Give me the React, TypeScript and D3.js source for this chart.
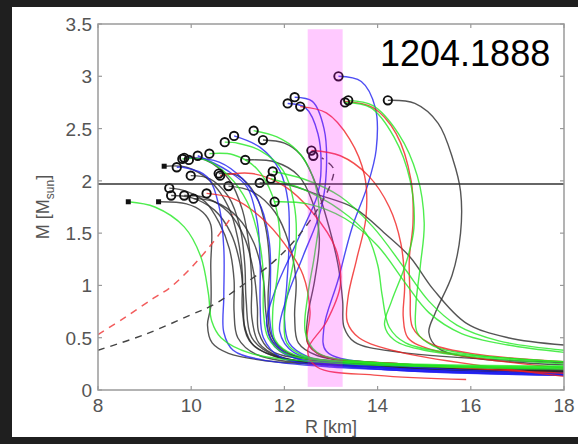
import React from "react";
import * as d3 from "d3";

// mass-radius curves, [R km, M Msun], from max-mass point down to the low-mass tail
const blackCurves = [
  [[14.22,2.77],[14.8,2.74],[15.3,2.55],[15.62,2.2],[15.78,1.9],[15.78,1.5],[15.6,1.1],[15.25,0.75],[15.1,0.55],[15.3,0.4],[16,0.31],[18,0.24]],
  [[11.54,2.39],[12.0,2.36],[12.35,2.25],[12.6,2.05],[12.9,1.65],[13.15,1.2],[13.25,0.85],[13.28,0.6],[13.5,0.46],[14.5,0.36],[18,0.26]],
  [[9.85,2.22],[10.3,2.2],[10.8,2.02],[11.1,1.72],[11.25,1.35],[11.3,1.0],[11.3,0.7],[11.45,0.45],[11.9,0.32],[14,0.22],[18,0.17]],
  [[9.42,2.14],[9.9,2.13],[10.4,2.0],[10.8,1.75],[11.0,1.45],[11.1,1.1],[11.1,0.75],[11.25,0.47],[11.8,0.32],[14,0.22],[18,0.16]],
  [[9.99,2.05],[10.4,2.02],[10.8,1.85],[11.05,1.55],[11.15,1.2],[11.18,0.85],[11.3,0.5],[11.8,0.33],[14,0.23],[18,0.17]],
  [[10.59,2.07],[11.0,2.05],[11.4,1.85],[11.6,1.55],[11.68,1.2],[11.65,0.85],[11.72,0.52],[12.1,0.35],[14,0.24],[18,0.18]],
  [[11.47,1.98],[12.1,1.96],[12.7,1.87],[13.5,1.74],[14.2,1.48],[14.7,1.27],[15.2,0.96],[15.9,0.64],[16.8,0.5],[18,0.43]],
  [[9.53,1.93],[9.9,1.9],[10.3,1.8],[10.6,1.6],[10.82,1.35],[10.92,1.05],[10.92,0.75],[11.0,0.5],[11.4,0.34],[13,0.24],[18,0.17]],
  [[9.57,1.86],[10.0,1.84],[10.5,1.72],[10.85,1.5],[11.05,1.2],[11.12,0.9],[11.15,0.6],[11.35,0.42],[12,0.3],[14,0.22],[18,0.17]],
  [[9.85,1.86],[10.3,1.84],[10.8,1.7],[11.15,1.45],[11.35,1.1],[11.42,0.8],[11.45,0.55],[11.7,0.38],[12.5,0.29],[14.5,0.22],[18,0.18]],
  [[10.05,1.83],[10.5,1.8],[11.0,1.65],[11.35,1.4],[11.55,1.05],[11.6,0.75],[11.7,0.5],[12.0,0.36],[13,0.28],[18,0.2]],
  [[10.8,1.95],[11.3,1.9],[11.8,1.7],[12.1,1.4],[12.25,1.05],[12.22,0.7],[12.3,0.45],[12.7,0.33],[14.5,0.25],[18,0.19]],
  [[9.3,1.8],[9.9,1.78],[10.25,1.7],[10.42,1.58],[10.42,1.2],[10.42,0.8],[10.35,0.62],[10.45,0.45],[10.8,0.35],[11.6,0.28],[13,0.24],[18,0.18]],
  [[11.16,2.2],[11.8,2.18],[12.3,2.05],[12.6,1.8],[12.75,1.45],[12.65,1.05],[12.5,0.7],[12.5,0.45],[12.8,0.33],[14.5,0.24],[18,0.17]],
];

const greenCurves = [
  [[13.37,2.77],[13.9,2.72],[14.45,2.45],[14.85,2.05],[15.0,1.6],[14.92,1.2],[14.82,0.8],[14.85,0.55],[15.2,0.42],[16,0.34],[18,0.27]],
  [[13.3,2.75],[13.85,2.7],[14.35,2.42],[14.7,2.0],[14.78,1.55],[14.6,1.2],[14.3,0.85],[14.15,0.62],[14.35,0.48],[15,0.38],[18,0.25]],
  [[11.34,2.48],[11.84,2.42],[12.27,2.29],[12.6,2.05],[12.75,1.7],[12.65,1.3],[12.5,0.9],[12.45,0.55],[12.7,0.36],[14,0.26],[18,0.22]],
  [[10.72,2.37],[11.0,2.36],[11.48,2.29],[11.97,2.1],[12.2,1.8],[12.25,1.4],[12.1,1.0],[12.0,0.7],[12.05,0.45],[12.4,0.33],[14,0.25],[18,0.21]],
  [[10.39,2.26],[10.9,2.25],[11.4,2.12],[11.75,1.85],[11.9,1.5],[11.85,1.1],[11.75,0.75],[11.8,0.48],[12.2,0.34],[14,0.26],[18,0.23]],
  [[11.75,2.09],[12.4,2.02],[13.2,1.85],[13.9,1.56],[14.6,1.15],[15.1,0.85],[15.7,0.62],[16.6,0.47],[18,0.38]],
  [[11.79,1.8],[12.5,1.78],[13.3,1.64],[14.0,1.38],[14.6,1.02],[15.1,0.74],[15.8,0.54],[16.8,0.43],[18,0.36]],
  [[11.71,2.02],[12.4,1.92],[13.2,1.72],[13.75,1.5],[14.0,1.2],[14.1,0.9],[14.25,0.6],[14.6,0.45],[15.5,0.36],[18,0.27]],
  [[8.65,1.8],[9.22,1.75],[9.85,1.56],[10.21,1.27],[10.37,0.92],[10.44,0.66],[10.64,0.5],[11.28,0.35],[13,0.26],[18,0.2]],
  [[9.81,2.21],[10.3,2.2],[10.8,2.05],[11.2,1.8],[11.45,1.45],[11.55,1.1],[11.55,0.75],[11.65,0.5],[12.0,0.35],[14,0.25],[18,0.22]],
];

const blueCurves = [
  [[13.16,3.0],[13.65,2.95],[13.95,2.7],[13.97,2.3],[13.78,1.95],[13.45,1.55],[13.15,1.05],[12.85,0.6],[12.9,0.37],[14,0.25],[18,0.16]],
  [[12.22,2.8],[12.6,2.76],[12.85,2.5],[12.9,2.1],[12.78,1.72],[12.4,1.28],[12.05,0.88],[11.9,0.56],[12.2,0.36],[14,0.22],[18,0.15]],
  [[12.07,2.74],[12.45,2.7],[12.72,2.45],[12.78,2.05],[12.7,1.85],[12.25,1.4],[11.8,0.95],[11.62,0.62],[11.9,0.37],[14,0.21],[18,0.14]],
  [[10.92,2.43],[11.48,2.32],[11.9,2.1],[12.08,1.8],[12.1,1.4],[12.05,1.0],[12.0,0.7],[12.1,0.45],[12.5,0.32],[14,0.22],[18,0.15]],
  [[10.14,2.24],[10.77,2.1],[11.2,1.94],[11.42,1.6],[11.48,1.2],[11.48,0.8],[11.55,0.5],[11.9,0.32],[14,0.2],[18,0.15]],
  [[9.69,2.13],[9.82,2.13],[10.34,2.04],[10.6,1.75],[10.7,1.35],[10.7,0.9],[10.7,0.55],[10.9,0.38],[11.5,0.29],[13,0.22],[18,0.15]],
  [[9.95,2.22],[10.6,2.18],[11.1,2.02],[11.5,1.75],[11.68,1.4],[11.7,1.0],[11.68,0.7],[11.8,0.45],[12.2,0.31],[14,0.2],[18,0.14]],
];

const redCurves = [
  [[13.3,2.76],[13.9,2.7],[14.4,2.45],[14.72,2.0],[14.76,1.6],[14.68,1.25],[14.7,0.9],[14.75,0.6],[15.1,0.45],[16,0.35],[18,0.27]],
  [[12.58,2.29],[13.2,2.24],[13.8,2.05],[14.25,1.75],[14.5,1.4],[14.58,1.0],[14.55,0.7],[14.65,0.5],[15.2,0.38],[18,0.21]],
  [[12.34,2.71],[12.9,2.65],[13.4,2.4],[13.72,2.05],[13.75,1.65],[13.55,1.25],[13.37,0.9],[13.35,0.65],[13.6,0.5],[14.5,0.36],[18,0.13]],
  [[10.62,2.05],[11.3,2.07],[12.0,1.95],[12.6,1.7],[13.1,1.35],[13.2,1.0],[12.9,0.65],[12.5,0.38],[12.7,0.22],[14,0.14],[15.9,0.1]],
  [[10.33,1.88],[10.9,1.83],[11.5,1.65],[12.0,1.4],[12.4,1.1],[12.55,0.75],[12.5,0.45],[12.8,0.33],[14.5,0.25],[18,0.16]],
];

const blackDashed = [[8,0.38],[9,0.53],[10,0.72],[10.5,0.82],[11,0.97],[11.7,1.2],[12.2,1.42],[12.7,1.72],[13.0,1.98],[13.05,2.12],[12.8,2.22]];
const redDashed = [[8,0.53],[8.6,0.7],[9.2,0.88],[9.55,0.98],[10.0,1.17],[10.3,1.32],[10.62,1.5],[10.9,1.68]];

const circleMarks = [
  [13.16,3.0],[12.07,2.74],[12.22,2.8],[12.34,2.71],[13.3,2.75],[13.37,2.77],[14.22,2.77],
  [10.72,2.37],[10.92,2.43],[11.34,2.48],[11.54,2.39],[12.58,2.29],[12.62,2.24],
  [10.39,2.26],[10.14,2.24],[9.85,2.22],[9.81,2.21],[9.69,2.13],[9.95,2.2],[11.16,2.2],
  [9.99,2.05],[10.59,2.07],[10.62,2.05],[10.8,1.95],[11.47,1.98],[11.75,2.09],[11.71,2.02],
  [11.79,1.8],[9.53,1.93],[9.57,1.86],[9.85,1.86],[10.05,1.83],[10.33,1.88],
];
const squareMarks = [[8.65,1.8],[9.3,1.8],[9.42,2.14]];

const xTicks = [8, 10, 12, 14, 16, 18];
const yTicks = [0, 0.5, 1, 1.5, 2, 2.5, 3, 3.5];
const twoSolarMass = 1.97;
const radiusBand = [12.5, 13.25];
const bandMass = [0.03, 3.45];

const W = 578, H = 444;
const font = "'Liberation Sans', Arial, sans-serif";

export default function App() {
  const x = d3.scaleLinear().domain([8, 18]).range([98, 564]);
  const y = d3.scaleLinear().domain([0, 3.5]).range([390, 24]);
  const line = d3.line<number[]>().x(d => x(d[0])).y(d => y(d[1])).curve(d3.curveCatmullRom.alpha(0.5));
  const [x0, x1] = x.range();
  const [y0, y1] = y.range();

  const drawSet = (curves: number[][][], color: string, key: string) =>
    curves.map((c, i) => (
      <path key={key + i} d={line(c) || ""} fill="none" stroke={color} strokeWidth={1.4} strokeOpacity={0.8} />
    ));

  return (
    <svg width={W} height={H} style={{ position: "absolute", left: 0, top: 0 }}>
      <rect width={W} height={H} fill="#1f1f1f" />
      <rect x={12} y={7} width={W - 12} height={430} fill="#fff" />
      <defs>
        <clipPath id="plot">
          <rect x={x0} y={y1} width={x1 - x0} height={y0 - y1} />
        </clipPath>
      </defs>

      <g clipPath="url(#plot)">
        {drawSet(blackCurves, "#2a2a2a", "k")}
        {drawSet(blueCurves, "#2020f0", "b")}
        {drawSet(redCurves, "#f02020", "r")}
        {drawSet(greenCurves, "#22e822", "g")}
        <path d={line(blackDashed) || ""} fill="none" stroke="#444" strokeWidth={1.4} strokeDasharray="7,6" />
        <path d={line(redDashed) || ""} fill="none" stroke="#f04040" strokeWidth={1.5} strokeDasharray="7,6" strokeOpacity={0.85} />
        {circleMarks.map((p, i) => (
          <circle key={"c" + i} cx={x(p[0])} cy={y(p[1])} r={4.2} fill="none" stroke="#111" strokeWidth={1.9} />
        ))}
        {squareMarks.map((p, i) => (
          <rect key={"s" + i} x={x(p[0]) - 2.5} y={y(p[1]) - 2.5} width={5} height={5} fill="#111" />
        ))}
        <line x1={x0} x2={x1} y1={y(twoSolarMass)} y2={y(twoSolarMass)} stroke="#333" strokeWidth={1.6} />
        <rect x={x(radiusBand[0])} y={y(bandMass[1])} width={x(radiusBand[1]) - x(radiusBand[0])}
          height={y(bandMass[0]) - y(bandMass[1])} fill="#ff00ff" fillOpacity={0.21} />
      </g>

      {/* frame and inward ticks */}
      <rect x={x0} y={y1} width={x1 - x0} height={y0 - y1} fill="none" stroke="#9a9a9a" strokeWidth={1.5} />
      {xTicks.map(t => (
        <g key={"xt" + t}>
          <line x1={x(t)} x2={x(t)} y1={y0} y2={y0 - 4} stroke="#9a9a9a" strokeWidth={1.2} />
          <line x1={x(t)} x2={x(t)} y1={y1} y2={y1 + 4} stroke="#9a9a9a" strokeWidth={1.2} />
          <text x={x(t)} y={412} textAnchor="middle" fontFamily={font} fontSize={19} fill="#555">{t}</text>
        </g>
      ))}
      {yTicks.map(t => (
        <g key={"yt" + t}>
          <line x1={x0} x2={x0 + 4} y1={y(t)} y2={y(t)} stroke="#9a9a9a" strokeWidth={1.2} />
          <line x1={x1} x2={x1 - 4} y1={y(t)} y2={y(t)} stroke="#9a9a9a" strokeWidth={1.2} />
          <text x={92} y={y(t) + 7} textAnchor="end" fontFamily={font} fontSize={19} fill="#555">{t}</text>
        </g>
      ))}
      <text x={331} y={433} textAnchor="middle" fontFamily={font} fontSize={18} fill="#555">R [km]</text>
      <text transform="translate(49,207) rotate(-90)" textAnchor="middle" fontFamily={font} fontSize={18} fill="#555">
        M [M<tspan fontSize={12} dy={5}>sun</tspan><tspan dy={-5}>]</tspan>
      </text>
      <text x={380} y={66} fontFamily={font} fontSize={36} fill="#000">1204.1888</text>
    </svg>
  );
}
